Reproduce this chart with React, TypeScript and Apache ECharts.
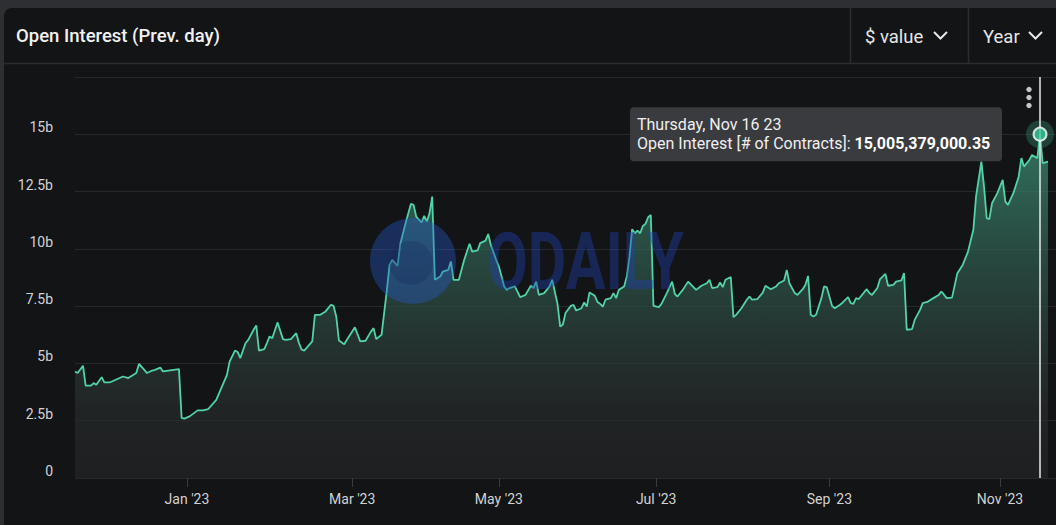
import { useEffect, useRef } from "react";
import * as echarts from "echarts";

// Sample positions (chart's own sample index) and open interest in billions USD
const sampleIdx = [
  0, 1, 3, 4, 6, 7, 8, 10, 11, 13, 18, 20, 23, 24, 26, 27, 29, 30, 32, 33,
  39, 40, 41, 43, 46, 48, 50, 53, 57, 58, 60, 61, 62, 64, 65, 67, 68, 69, 71, 72,
  73, 74, 76, 78, 79, 81, 83, 84, 85, 86, 89, 90, 92, 94, 96, 97, 98, 99, 101, 102,
  105, 107, 109, 111, 112, 113, 115, 117, 118, 119, 121, 122, 124, 126, 127, 128, 130, 131, 132, 133,
  134, 135, 137, 138, 140, 141, 142, 144, 146, 148, 149, 151, 152, 154, 155, 156, 158, 159, 161, 162,
  163, 165, 167, 169, 171, 172, 173, 174, 176, 178, 179, 181, 182, 183, 184, 186, 187, 188, 190, 191,
  192, 193, 195, 196, 197, 198, 199, 201, 202, 203, 204, 206, 207, 208, 209, 210, 211, 212, 213, 214,
  215, 216, 217, 219, 220, 222, 224, 225, 226, 228, 230, 232, 233, 235, 237, 238, 239, 241, 242, 243,
  244, 246, 247, 248, 250, 252, 253, 254, 256, 258, 259, 261, 263, 264, 266, 267, 268, 270, 271, 273,
  274, 275, 276, 277, 278, 280, 281, 282, 284, 285, 287, 288, 290, 291, 292, 293, 294, 297, 298, 299,
  301, 302, 304, 305, 307, 308, 310, 311, 312, 314, 315, 317, 318, 320, 321, 322, 324, 325, 326, 327,
  329, 331, 333, 335, 337, 338, 340, 341, 342, 343, 344, 346, 348, 349, 350, 352, 354, 355, 356, 358,
  359, 361, 362, 363, 365,
];
const openInterestB = [
  4.65, 4.58, 4.9, 4.03, 4.03, 4.14, 4.07, 4.4, 4.17, 4.17, 4.43, 4.36, 4.58, 4.98, 4.72, 4.58, 4.69, 4.72, 4.82, 4.65,
  4.75, 2.62, 2.59, 2.69, 2.95, 2.95, 3.01, 3.41, 4.5, 5.08, 5.56, 5.5, 5.23, 5.89, 6.03, 6.47, 6.66, 5.56, 5.62, 5.89,
  6.18, 6.1, 6.79, 6.06, 6.03, 6.06, 6.32, 5.89, 5.6, 5.56, 5.96, 7.12, 7.12, 7.27, 7.56, 7.51, 7.05, 6.0, 5.84, 6.03,
  6.58, 5.96, 5.99, 6.39, 6.54, 6.06, 6.25, 8.21, 9.3, 9.52, 9.26, 10.2, 11.12, 11.96, 11.92, 11.41, 11.15, 11.44, 11.19, 11.56,
  12.28, 8.65, 8.79, 9.01, 9.08, 9.45, 8.65, 8.65, 9.52, 10.22, 9.88, 9.93, 10.25, 10.36, 10.65, 10.17, 9.52, 9.23, 8.36, 8.21,
  8.29, 8.36, 7.89, 7.99, 8.39, 8.29, 8.57, 7.99, 8.07, 8.36, 8.65, 7.6, 6.61, 6.69, 7.2, 7.51, 7.56, 7.31, 7.41, 7.66,
  7.48, 8.1, 7.95, 7.68, 7.6, 7.48, 7.78, 7.85, 8.07, 7.85, 8.21, 8.36, 8.79, 9.66, 10.86, 10.68, 10.8, 10.68, 11.0, 11.09,
  11.38, 11.48, 7.51, 7.46, 7.6, 8.07, 8.57, 8.04, 7.92, 8.21, 8.57, 8.33, 8.21, 8.39, 8.5, 8.65, 8.29, 8.33, 8.53, 8.33,
  8.65, 8.77, 7.02, 7.12, 7.41, 7.78, 7.92, 7.78, 7.81, 8.09, 8.39, 8.24, 8.36, 8.5, 8.62, 9.08, 8.5, 8.07, 7.99, 8.24,
  8.43, 8.82, 7.12, 7.05, 7.12, 7.85, 8.36, 8.33, 7.51, 7.41, 7.56, 7.66, 7.89, 7.63, 7.6, 7.85, 7.81, 8.24, 8.07, 7.99,
  8.29, 8.68, 8.91, 8.39, 8.43, 8.57, 8.62, 8.94, 6.47, 6.5, 6.9, 7.34, 7.63, 7.7, 7.78, 7.85, 7.99, 8.14, 8.0, 7.85,
  7.87, 8.94, 9.3, 9.88, 10.83, 12.28, 13.81, 12.72, 11.34, 11.3, 11.99, 12.43, 13.01, 12.06, 11.92, 12.43, 13.15, 13.96, 13.59, 13.88,
  14.1, 13.96, 15.005379, 13.74, 13.81,
];

const xTickIdx = [42, 104, 159, 218, 283, 347];
const xTickLabels = ["Jan '23", "Mar '23", "May '23", "Jul '23", "Sep '23", "Nov '23"];

const hoverIdx = 362;
const hoverValue = 15005379000.35;
const hoverDate = "Thursday, Nov 16 23";
const seriesName = "Open Interest [# of Contracts]";
const title = "Open Interest (Prev. day)";
const controls = ["$ value", "Year"];

const FONT = "Roboto, 'Noto Sans', sans-serif";

export default function App() {
  const ref = useRef<HTMLDivElement>(null);

  useEffect(() => {
    const chart = echarts.init(ref.current!, null, { renderer: "svg" });
    const data = sampleIdx.map((x, i) => [x, openInterestB[i]]);
    const hv = openInterestB[sampleIdx.indexOf(hoverIdx)];

    const staticGraphics: any[] = [
      { id: "topStrip", type: "rect", z: 50, shape: { x: 0, y: 0, width: 1056, height: 8 }, style: { fill: "#2e2f33" } },
      { id: "leftStrip", type: "rect", z: 50, shape: { x: 0, y: 0, width: 4, height: 525 }, style: { fill: "#2e2f33" } },
      { id: "cornerSq", type: "rect", z: 50, shape: { x: 4, y: 8, width: 8, height: 8 }, style: { fill: "#2e2f33" } },
      { id: "cornerArc", type: "circle", z: 51, shape: { cx: 12, cy: 16, r: 8 }, style: { fill: "#131416" } },
      { id: "hdrLine", type: "line", z: 50, shape: { x1: 4, y1: 63.5, x2: 1056, y2: 63.5 }, style: { stroke: "#2c2d31", lineWidth: 1.5 } },
      { id: "div1", type: "line", z: 50, shape: { x1: 850.5, y1: 8, x2: 850.5, y2: 63 }, style: { stroke: "#2c2d31", lineWidth: 1.5 } },
      { id: "div2", type: "line", z: 50, shape: { x1: 968.5, y1: 8, x2: 968.5, y2: 63 }, style: { stroke: "#2c2d31", lineWidth: 1.5 } },
      {
        id: "title", type: "text", z: 52, x: 16, y: 36,
        style: { text: title, font: `500 18.5px ${FONT}`, fill: "#f1f1f1", verticalAlign: "middle" },
      },
      {
        id: "ctrl1", type: "text", z: 50, x: 865, y: 36.5,
        style: { text: controls[0], font: `18.5px ${FONT}`, fill: "#e6e6e6", verticalAlign: "middle" },
      },
      { id: "chev1", type: "polyline", z: 50, shape: { points: [[934, 32], [940.5, 38.5], [947, 32]] }, style: { stroke: "#e6e6e6", lineWidth: 2, fill: "none" } },
      {
        id: "ctrl2", type: "text", z: 50, x: 983, y: 36.5,
        style: { text: controls[1], font: `18.5px ${FONT}`, fill: "#e6e6e6", verticalAlign: "middle" },
      },
      { id: "chev2", type: "polyline", z: 50, shape: { points: [[1029, 32], [1035.5, 38.5], [1042, 32]] }, style: { stroke: "#e6e6e6", lineWidth: 2, fill: "none" } },
      { id: "dot1", type: "circle", z: 50, shape: { cx: 1029, cy: 89.5, r: 2.7 }, style: { fill: "#c6c6c6" } },
      { id: "dot2", type: "circle", z: 50, shape: { cx: 1029, cy: 97.5, r: 2.7 }, style: { fill: "#c6c6c6" } },
      { id: "dot3", type: "circle", z: 50, shape: { cx: 1029, cy: 105.5, r: 2.7 }, style: { fill: "#c6c6c6" } },
      // watermark
      { id: "wmCircle", type: "circle", z: 60, shape: { cx: 413, cy: 261, r: 43 }, style: { fill: "rgba(40,90,205,0.38)" } },
      { id: "wmInner", type: "circle", z: 61, shape: { cx: 411, cy: 263, r: 22 }, style: { fill: "rgba(15,30,80,0.22)" } },
      {
        id: "wmText", type: "text", z: 60, x: 487, y: 262, scaleX: 0.74,
        style: { text: "ODAILY", font: `bold 80px ${FONT}`, fill: "rgba(30,65,175,0.42)", verticalAlign: "middle" },
      },
    ];

    chart.setOption({
      animation: false,
      backgroundColor: "#131416",
      textStyle: { fontFamily: FONT },
      grid: { left: 75, right: 0, top: 77, bottom: 47 },
      xAxis: {
        type: "value",
        min: 0,
        max: 368,
        axisLine: { show: false },
        splitLine: { show: false },
        axisTick: {
          show: true,
          customValues: xTickIdx,
          length: 9,
          lineStyle: { color: "#3a3b3f", width: 1 },
        },
        axisLabel: {
          customValues: xTickIdx,
          color: "#d2d2d2",
          fontSize: 14,
          margin: 14,
          formatter: (v: number) => {
            const k = xTickIdx.indexOf(Math.round(v));
            return k >= 0 ? xTickLabels[k] : "";
          },
        },
      },
      yAxis: {
        type: "value",
        min: 0,
        max: 17.5,
        interval: 2.5,
        axisLine: { show: false },
        axisTick: { show: false },
        splitLine: { lineStyle: { color: "#27282c", width: 1 } },
        axisLabel: {
          color: "#d2d2d2",
          fontSize: 14,
          margin: 22,
          verticalAlign: "bottom",
          showMaxLabel: false,
          formatter: (v: number) => (v === 0 ? "0" : `${v}b`),
        },
      },
      series: [
        {
          name: seriesName,
          type: "line",
          data,
          showSymbol: false,
          symbol: "none",
          lineStyle: { color: "#52d3a6", width: 1.8 },
          areaStyle: {
            color: new echarts.graphic.LinearGradient(0, 0, 0, 1, [
              { offset: 0, color: "#40987c" },
              { offset: 0.35, color: "#305f52" },
              { offset: 0.6, color: "#2b403b" },
              { offset: 0.8, color: "#272b2c" },
              { offset: 1, color: "#222426" },
            ]),
          },
          markLine: {
            silent: true,
            symbol: ["none", "none"],
            label: { show: false },
            lineStyle: { color: "#e8e8e8", width: 1.5, type: "solid" },
            data: [{ xAxis: hoverIdx }],
          },
          z: 3,
        },
        {
          type: "scatter",
          data: [[hoverIdx, hv]],
          symbolSize: 28,
          itemStyle: { color: "rgba(60,180,145,0.35)" },
          silent: true,
          z: 4,
        },
        {
          type: "scatter",
          data: [[hoverIdx, hv]],
          symbolSize: 13,
          itemStyle: { color: "#38c89c", borderColor: "#ffffff", borderWidth: 2 },
          silent: true,
          z: 5,
        },
      ],
      graphic: staticGraphics,
    });

    const [px, py] = chart.convertToPixel({ seriesIndex: 0 }, [hoverIdx, hv]) as number[];
    const valueText = hoverValue.toLocaleString("en-US", { minimumFractionDigits: 2, maximumFractionDigits: 2 });
    const tipGraphics: any[] = [
      {
        id: "tipBox", type: "rect", z: 80,
        shape: { x: px - 410, y: py - 27, width: 372, height: 54, r: 4 },
        style: { fill: "#3a3b3f" },
      },
      {
        id: "tipDate", type: "text", z: 81, x: px - 403, y: py - 10,
        style: { text: hoverDate, font: `16px ${FONT}`, fill: "#efefef", verticalAlign: "middle" },
      },
      {
        id: "tipVal", type: "text", z: 81, x: px - 403, y: py + 9.5,
        style: {
          text: `{a|${seriesName}: }{b|${valueText}}`,
          verticalAlign: "middle",
          rich: {
            a: { font: `16px ${FONT}`, fill: "#efefef" },
            b: { font: `bold 16px ${FONT}`, fill: "#ffffff" },
          },
        },
      },
    ];
    chart.setOption({ graphic: [...staticGraphics, ...tipGraphics] });

    return () => chart.dispose();
  }, []);

  return (
    <div style={{ position: "fixed", left: 0, top: 0, width: 1056, height: 525, background: "#131416" }}>
      <div ref={ref} style={{ width: 1056, height: 525 }} />
    </div>
  );
}
